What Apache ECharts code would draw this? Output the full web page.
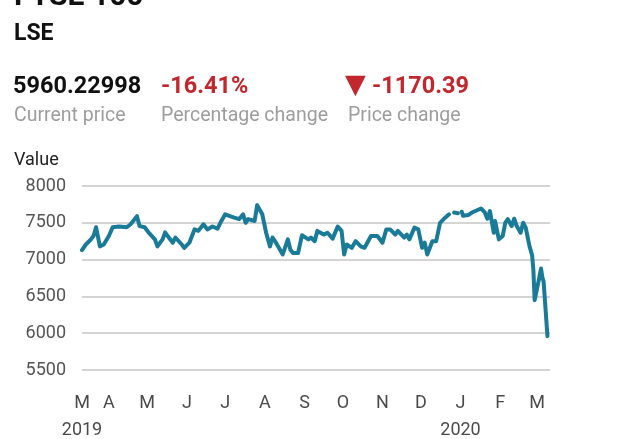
<!DOCTYPE html>
<html>
<head>
<meta charset="utf-8">
<script src="https://cdn.jsdelivr.net/npm/echarts@6/dist/echarts.min.js"></script>
<style>
html,body{margin:0;padding:0;background:#fff;}
#chart{width:640px;height:439px;}
</style>
</head>
<body>
<div id="chart"></div>
<script>
// ---- data ----
const dates = [
'2019-03-11','2019-03-14','2019-03-18','2019-03-20','2019-03-22','2019-03-25','2019-03-28',
'2019-04-01','2019-04-04','2019-04-09','2019-04-15','2019-04-18','2019-04-23','2019-04-25','2019-04-29',
'2019-05-02','2019-05-07','2019-05-09','2019-05-13','2019-05-15','2019-05-17','2019-05-21','2019-05-23','2019-05-28','2019-05-30',
'2019-06-03','2019-06-05','2019-06-07','2019-06-10','2019-06-14','2019-06-17','2019-06-21','2019-06-25','2019-06-28',
'2019-07-01','2019-07-08','2019-07-12','2019-07-15','2019-07-17','2019-07-19','2019-07-24','2019-07-26','2019-07-30',
'2019-08-02','2019-08-05','2019-08-07','2019-08-09','2019-08-15','2019-08-19','2019-08-21','2019-08-23','2019-08-27','2019-08-30',
'2019-09-04','2019-09-06','2019-09-09','2019-09-11','2019-09-16','2019-09-19','2019-09-23','2019-09-27','2019-09-30',
'2019-10-02','2019-10-04','2019-10-08','2019-10-11','2019-10-15','2019-10-18','2019-10-23','2019-10-28',
'2019-11-01','2019-11-04','2019-11-07','2019-11-11','2019-11-13','2019-11-18','2019-11-20','2019-11-22','2019-11-26','2019-11-29',
'2019-12-02','2019-12-04','2019-12-06','2019-12-10','2019-12-13','2019-12-16','2019-12-20','2019-12-23','2019-12-24','2019-12-27','2019-12-30','2019-12-31',
'2020-01-02','2020-01-03','2020-01-07','2020-01-10','2020-01-17','2020-01-20','2020-01-22','2020-01-24','2020-01-27','2020-01-28','2020-01-31',
'2020-02-03','2020-02-05','2020-02-07','2020-02-10','2020-02-12','2020-02-14','2020-02-17','2020-02-19','2020-02-21','2020-02-24','2020-02-26','2020-02-27','2020-02-28',
'2020-03-02','2020-03-04','2020-03-05','2020-03-06','2020-03-09'
];
const values = [
7130,7205,7275,7320,7440,7180,7205,
7320,7440,7450,7440,7480,7590,7455,7440,
7370,7275,7180,7275,7370,7320,7230,7300,7205,7160,
7230,7320,7410,7390,7480,7410,7450,7420,7525,
7615,7570,7550,7615,7500,7550,7525,7740,7615,
7365,7180,7300,7250,7070,7275,7135,7090,7090,7330,
7275,7300,7250,7390,7340,7365,7285,7450,7390,
7070,7205,7160,7250,7180,7160,7320,7320,
7230,7410,7410,7340,7390,7300,7340,7275,7435,7410,
7160,7230,7070,7250,7250,7500,7570,7615,null,7640,7630,null,
7650,7595,7605,7640,7695,7640,7555,7660,7365,7525,7275,
7320,7500,7550,7455,7555,7455,7365,7500,7435,7180,7060,6860,6450,
6700,6880,6760,6700,5960.23
];
const tickDates = ['2019-03-11','2019-04-01','2019-05-01','2019-06-01','2019-07-01','2019-08-01','2019-09-01','2019-10-01','2019-11-01','2019-12-01','2020-01-01','2020-02-01','2020-03-01'];
const monthLabels = ['M','A','M','J','J','A','S','O','N','D','J','F','M'];
const yearLabels = ['2019','','','','','','','','','','2020','',''];
const yTicks = [5500,6000,6500,7000,7500,8000];
const axisMin = '2019-03-11';
const axisMax = '2020-03-11';

const ts = s => { const p = s.split('-').map(Number); return new Date(p[0], p[1]-1, p[2]).getTime(); };
const tickTs = tickDates.map(ts);
const seriesData = dates.map((d,i) => [ts(d), values[i] === null ? '-' : values[i]]);

const chart = echarts.init(document.getElementById('chart'), null, {renderer:'canvas'});
const FONT = 'Roboto, "Noto Sans", sans-serif';
const RED = '#c1272d';
const GREY = '#9d9d9d';
const LINE = '#1a7b98';

chart.setOption({
  animation: false,
  backgroundColor: '#ffffff',
  textStyle: { fontFamily: FONT },
  grid: { left: 82, right: 90, top: 186, bottom: 69, containLabel: false, outerBoundsMode: 'none' },
  xAxis: [{
    type: 'time',
    min: ts(axisMin),
    max: ts(axisMax),
    axisLine: { show: false },
    axisTick: { show: false },
    splitLine: { show: false },
    axisLabel: { show: false }
  }, {
    type: 'value',
    position: 'bottom',
    min: ts(axisMin),
    max: ts(axisMax),
    axisLine: { show: false },
    axisTick: { show: false },
    splitLine: { show: false },
    axisLabel: {
      customValues: tickTs,
      margin: 19,
      hideOverlap: false,
      showMinLabel: true,
      formatter: function (val) {
        let i = -1;
        for (let k = 0; k < tickTs.length; k++) { if (Math.abs(tickTs[k] - val) < 3600000) { i = k; break; } }
        if (i < 0) return '';
        const y = yearLabels[i];
        return '{m|' + monthLabels[i] + '}' + (y ? '\n{y|' + y + '}' : '');
      },
      rich: {
        m: { fontSize: 18, color: '#4a4a4a', fontFamily: FONT, lineHeight: 28 },
        y: { fontSize: 18, color: '#4a4a4a', fontFamily: FONT, lineHeight: 27 }
      }
    }
  }],
  yAxis: {
    type: 'value',
    min: yTicks[0],
    max: yTicks[yTicks.length - 1],
    interval: 500,
    axisLine: { show: false },
    axisTick: { show: false },
    axisLabel: { fontSize: 18, color: '#555555', margin: 16, fontFamily: FONT, formatter: v => String(v) },
    splitLine: { lineStyle: { color: '#d4d4d4', width: 2 } }
  },
  graphic: [
    { type: 'text', x: 14, y: -3, style: { text: 'FTSE 100', font: 'bold 30px ' + FONT, fill: '#111111', verticalAlign: 'middle' } },
    { type: 'text', x: 14, y: 34, style: { text: 'LSE', font: 'bold 23px ' + FONT, fill: '#111111', verticalAlign: 'middle' } },
    { type: 'text', x: 13, y: 87, style: { text: '5960.22998', font: 'bold 23.5px ' + FONT, fill: '#111111', verticalAlign: 'middle' } },
    { type: 'text', x: 161, y: 87, style: { text: '-16.41%', font: 'bold 23.5px ' + FONT, fill: RED, verticalAlign: 'middle' } },
    { type: 'text', x: 345, y: 86, style: { text: '▼', font: '27px "DejaVu Sans", sans-serif', fill: RED, verticalAlign: 'middle' } },
    { type: 'text', x: 372, y: 87, style: { text: '-1170.39', font: 'bold 23.5px ' + FONT, fill: RED, verticalAlign: 'middle' } },
    { type: 'text', x: 14, y: 116, style: { text: 'Current price', font: '19.5px ' + FONT, fill: GREY, verticalAlign: 'middle' } },
    { type: 'text', x: 161, y: 116, style: { text: 'Percentage change', font: '19.5px ' + FONT, fill: GREY, verticalAlign: 'middle' } },
    { type: 'text', x: 348, y: 116, style: { text: 'Price change', font: '19.5px ' + FONT, fill: GREY, verticalAlign: 'middle' } },
    { type: 'text', x: 14, y: 160, style: { text: 'Value', font: '18px ' + FONT, fill: '#222222', verticalAlign: 'middle' } }
  ],
  series: [{
    type: 'line',
    xAxisIndex: 0,
    data: seriesData,
    showSymbol: false,
    connectNulls: false,
    lineStyle: { color: LINE, width: 4, join: 'round', cap: 'round' },
    itemStyle: { color: LINE }
  }]
});
</script>
</body>
</html>
